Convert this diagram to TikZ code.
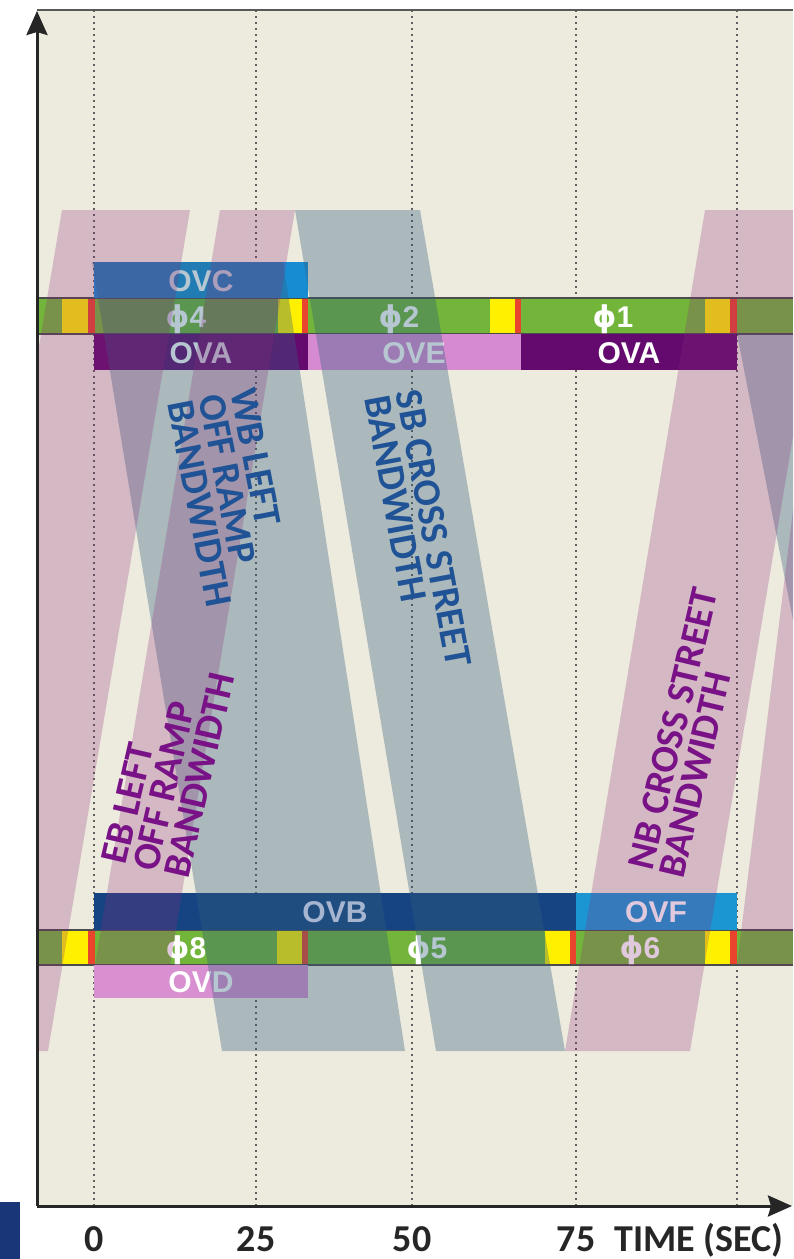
\documentclass[tikz,border=0pt]{standalone}
\usepackage{fontspec}
\setmainfont{Liberation Sans}
\newfontfamily\carl{Carlito}
\newfontfamily\djv{DejaVu Sans}
\usetikzlibrary{arrows.meta}
\definecolor{cream}{RGB}{237,234,222}
\definecolor{gbase}{RGB}{114,181,58}
\definecolor{ylw}{RGB}{255,240,0}
\definecolor{rd}{RGB}{232,69,44}
\definecolor{ovaC}{RGB}{100,10,110}
\definecolor{oveC}{RGB}{214,138,208}
\definecolor{ovcC}{RGB}{24,140,210}
\definecolor{ovbC}{RGB}{22,68,130}
\definecolor{ovfC}{RGB}{27,150,210}
\definecolor{ovdC}{RGB}{216,144,208}
\definecolor{pinkB}{RGB}{138,42,122}
\definecolor{grayB}{RGB}{50,95,125}
\definecolor{blueT}{RGB}{32,82,150}
\definecolor{purpT}{RGB}{122,18,135}
\definecolor{navy}{RGB}{25,55,120}
\definecolor{gridC}{RGB}{95,95,95}
\newcommand{\ph}[1]{{\djv\bfseries ϕ}#1}
\begin{document}
\begin{tikzpicture}[x=1pt,y=-1pt,
  barlbl/.style={anchor=base, text=white, font=\fontsize{30}{30}\selectfont\bfseries, inner sep=0},
  bandlbl/.style={anchor=north west, inner sep=0, align=left, font=\carl\fontsize{39}{32}\selectfont\bfseries},
  pband/.style={fill=pinkB, fill opacity=0.25},
  gband/.style={fill=grayB, fill opacity=0.35},
  gridline/.style={draw=gridC, line width=1.6pt, dash pattern=on 2pt off 4pt},
  axisline/.style={draw=black!85, line width=3pt, -{Stealth[length=24pt,width=21pt,inset=3pt]}},
  ticklbl/.style={anchor=base, inner sep=0, font=\carl\fontsize{38}{38}\selectfont\bfseries, text=black!85},
  barframe/.style={draw=black!70, line width=1.2pt}
]
\useasboundingbox (0,0) rectangle (793,1259);
\fill[white] (0,0) rectangle (793,1259);
\fill[cream] (37,10) rectangle (793,1206);
% grid
\foreach \gx in {94,256,412,576,737} \draw[gridline] (\gx,10) -- (\gx,1206);
\draw[gray!70!black, line width=2pt] (37,10) -- (793,10);
% upper phase bar
\fill[gbase] (37,298) rectangle (793,334);
\fill[ylw] (62,298) rectangle (88,334); \fill[rd] (88,298) rectangle (95,334);
\fill[ylw] (278,298) rectangle (302,334); \fill[rd] (302,298) rectangle (308,334);
\fill[ylw] (490,298) rectangle (515,334); \fill[rd] (515,298) rectangle (521,334);
\fill[ylw] (705,298) rectangle (730,334); \fill[rd] (730,298) rectangle (737,334);
\draw[barframe] (37,298) -- (793,298) (37,334) -- (793,334);
% lower phase bar
\fill[gbase] (37,930) rectangle (793,965);
\fill[ylw] (62,930) rectangle (88,965); \fill[rd] (88,930) rectangle (95,965);
\fill[ylw] (277,930) rectangle (302,965); \fill[rd] (302,930) rectangle (308,965);
\fill[ylw] (545,930) rectangle (570,965); \fill[rd] (570,930) rectangle (576,965);
\fill[ylw] (705,930) rectangle (730,965); \fill[rd] (730,930) rectangle (737,965);
\draw[barframe] (37,930) -- (793,930) (37,965) -- (793,965);
% overlap bars
\fill[ovcC] (94,262) rectangle (308,298);
\fill[ovaC] (94,334) rectangle (308,370);
\fill[oveC] (308,334) rectangle (521,370);
\fill[ovaC] (521,334) rectangle (737,370);
\fill[ovbC] (94,893) rectangle (576,930);
\fill[ovfC] (576,893) rectangle (737,930);
\fill[ovdC] (94,965) rectangle (308,998);
% bar labels
\node[barlbl] (ovc) at (201,291) {OVC};
\node[barlbl] (ph4) at (186,327) {\ph{4}};
\node[barlbl] (ova1) at (201,363) {OVA};
\node[barlbl] (ph2) at (399,327) {\ph{2}};
\node[barlbl] (ove) at (414,363) {OVE};
\node[barlbl] (ph1) at (613,327) {\ph{1}};
\node[barlbl] (ova2) at (629,363) {OVA};
\node[barlbl, text=blue!10!white] (ovb) at (335,922) {OVB};
\node[barlbl] (ovf) at (656,922) {OVF};
\node[barlbl] (ph8) at (186,958) {\ph{8}};
\node[barlbl] (ph5) at (427,958) {\ph{5}};
\node[barlbl] (ph6) at (640,958) {\ph{6}};
\node[barlbl] (ovd) at (201,992) {OVD};
% bands
\begin{scope}
\clip (37,10) rectangle (793,1206);
\fill[gband] (92,262) -- (283,262) -- (405,1051) -- (222,1051) -- cycle;
\fill[gband] (295,210) -- (420,210) -- (565,1051) -- (436,1051) -- cycle;
\fill[gband] (737,334) -- (820,334) -- (820,758) -- cycle;
\fill[pband] (62,210) -- (190,210) -- (48,1051) -- (-80,1051) -- cycle;
\fill[pband] (220,210) -- (295,210) -- (170,965) -- (95,965) -- cycle;
\fill[pband] (705,210) -- (831,210) -- (690,1051) -- (565,1051) -- cycle;
\fill[pband] (737,965) -- (812,965) -- (905,210) -- (830,210) -- cycle;
\end{scope}
% band labels
\node[bandlbl, text=blueT, rotate=-79] (wb) at (255,386) {WB LEFT\\OFF RAMP\\BANDWIDTH};
\node[bandlbl, text=blueT, rotate=-79.5] (sb) at (421,388) {SB CROSS STREET\\BANDWIDTH};
\node[bandlbl, text=purpT, rotate=77] (eb) at (101,860) {EB LEFT\\OFF RAMP\\BANDWIDTH};
\node[bandlbl, text=purpT, rotate=76.7] (nb) at (627,866) {NB CROSS STREET\\BANDWIDTH};
% axes
\coordinate (orig) at (37,1206);
\coordinate (ytip) at (37,11);
\coordinate (xtip) at (792,1206);
\draw[axisline] (orig) -- (ytip);
\draw[axisline] (orig) -- (xtip);
% tick labels
\node[ticklbl] (t0) at (94,1251) {0};
\node[ticklbl] (t25) at (256,1251) {25};
\node[ticklbl] (t50) at (412,1251) {50};
\node[ticklbl] (t75) at (576,1251) {75};
\node[ticklbl, anchor=base west] (tlab) at (614,1251) {TIME (SEC)};
\fill[navy] (0,1202) rectangle (20,1259);
\end{tikzpicture}
\end{document}
